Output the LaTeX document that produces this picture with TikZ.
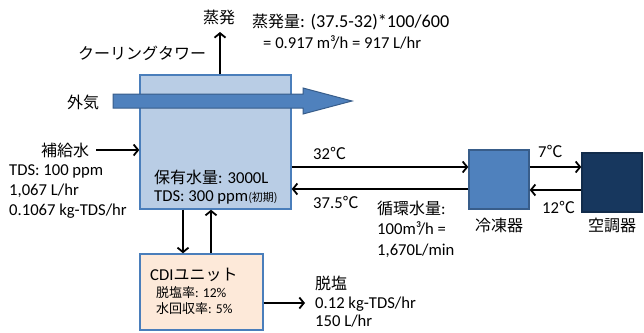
\documentclass[tikz,border=0pt]{standalone}
\usepackage{fontspec}
\setmainfont[Scale=1.04]{Carlito}
\newfontfamily\jp{Noto Sans CJK JP}
\usetikzlibrary{arrows.meta}
\definecolor{towerfill}{HTML}{B9CDE5}
\definecolor{boxline}{HTML}{4A7EBB}
\definecolor{midblue}{HTML}{4F81BD}
\definecolor{darkline}{HTML}{385D8A}
\definecolor{navy}{HTML}{17375E}
\definecolor{peach}{HTML}{FDE9D9}
\tikzset{
  arr/.style={line width=2pt,-{Straight Barb[length=4.5pt,width=11pt,line width=1.8pt]}},
  lbl/.style={anchor=west,inner sep=0pt,font=\fontsize{16}{20}\selectfont,align=left},
  small/.style={anchor=west,inner sep=0pt,font=\fontsize{13}{16}\selectfont},
  box/.style={draw,line width=1.4pt,inner sep=0pt,minimum width=#1},
}
\begin{document}
\begin{tikzpicture}[x=1pt,y=-1pt]
\useasboundingbox (0,0) rectangle (644,332);
% boxes
\node[box=151pt,draw=boxline,fill=towerfill,minimum height=134pt] (tower) at (215.5,142) {};
\node[box=123pt,draw=boxline,fill=peach,minimum height=76pt] (cdi) at (201.5,292) {};
\node[box=60pt,draw=darkline,fill=midblue,minimum height=59pt] (chiller) at (499,179.5) {};
\node[box=60pt,draw=navy!80!black,fill=navy,minimum height=59pt] (ac) at (612,182.5) {};
% big air arrow
\filldraw[fill=midblue,draw=darkline,line width=1pt]
  (113,94) -- (303,94) -- (303,88) -- (352,101) -- (303,114) -- (303,108) -- (113,108) -- cycle;
% text labels
\node[lbl] (gaiki) at (67,102) {\jp 外気};
\node[lbl] (ct) at (78,53) {\jp クーリングタワー};
\node[lbl] (evlbl) at (203,17) {\jp 蒸発};
\node[lbl] (evq1) at (252,22) {{\jp 蒸発量}{\fontsize{17.5}{20}\selectfont: (37.5-32)*100/600}};
\node[lbl] (evq2) at (263,42) {= 0.917 m³/h = 917 L/hr};
\node[lbl] (makeup) at (41,150) {\jp 補給水};
\node[lbl] (tds) at (9,192) {TDS: 100 ppm\\1,067 L/hr\\0.1067 kg-TDS/hr};
\node[lbl] (hold1) at (154,177) {{\jp 保有水量}: 3000L};
\node[lbl] (hold2) at (154,197) {TDS: 300 ppm{\fontsize{11}{12}\selectfont\jp (初期)}};
\node[lbl] (cdit) at (150,275) {CDI{\jp ユニット}};
\node[small] (cdir1) at (156,293) {{\jp 脱塩率}: 12\%};
\node[small] (cdir2) at (156,309) {{\jp 水回収率}: 5\%};
\node[lbl] (t32) at (313,153) {32{\jp ℃}};
\node[lbl] (t375) at (313,202) {37.5{\jp ℃}};
\node[lbl,font=\fontsize{16}{20.5}\selectfont] (circ) at (377,229) {{\jp 循環水量}:\\100m³/h =\\1,670L/min};
\node[lbl,anchor=center] (chl) at (499,225) {\jp 冷凍器};
\node[lbl,anchor=center] (acl) at (612,225) {\jp 空調器};
\node[lbl] (t7) at (538,151) {7{\jp ℃}};
\node[lbl] (t12) at (542,207) {12{\jp ℃}};
\node[lbl,font=\fontsize{16}{18.5}\selectfont] (desal) at (315,302) {{\jp 脱塩}\\0.12 kg-TDS/hr\\150 L/hr};
% helper coordinates
\coordinate (evtop) at (220,32);
\coordinate (y150) at (0,150);
\coordinate (y167) at (0,167);
\coordinate (y189) at (0,189);
\coordinate (y190) at (0,190);
\coordinate (x183) at (183,0);
\coordinate (x211) at (211,0);
\coordinate (desalend) at (305,303);
% connectors
\draw[arr] (tower.north -| evtop) -- (evtop);
\draw[arr] ([xshift=7pt]makeup.east) -- (tower.west |- y150);
\draw[arr] (tower.east |- y167) -- (chiller.west |- y167);
\draw[arr] (chiller.west |- y189) -- (tower.east |- y189);
\draw[arr] (chiller.east |- y167) -- (ac.west |- y167);
\draw[arr] (ac.west |- y190) -- (chiller.east |- y190);
\draw[arr] (tower.south -| x183) -- (cdi.north -| x183);
\draw[arr] (cdi.north -| x211) -- (tower.south -| x211);
\draw[arr] (cdi.east |- desalend) -- (desalend);
\end{tikzpicture}
\end{document}
